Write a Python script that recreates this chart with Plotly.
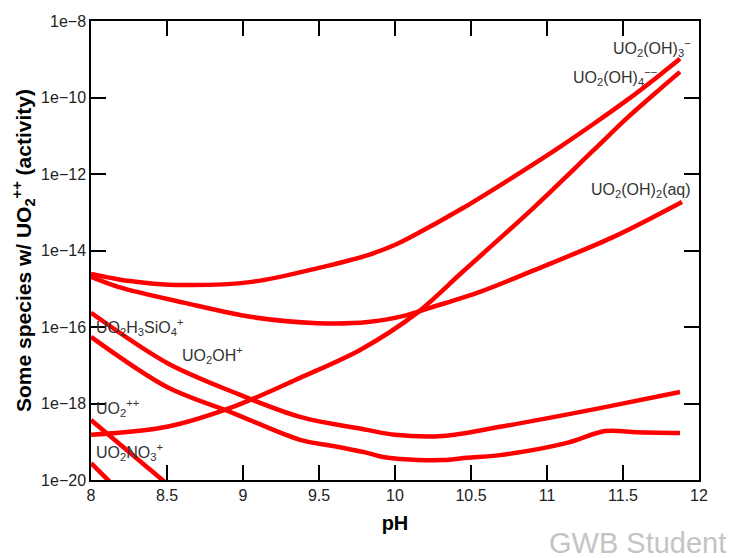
import plotly.graph_objects as go

# ---- data (pH, log10 activity) ----
ph_oh3 = [8.0, 8.257, 8.553, 9.059, 9.493, 9.822, 10.013, 10.132, 10.447, 10.829, 11.086, 11.303, 11.526, 11.743, 11.875]
lg_oh3 = [-14.61, -14.80, -14.90, -14.82, -14.46, -14.12, -13.83, -13.59, -12.89, -11.95, -11.29, -10.70, -10.07, -9.41, -8.99]

ph_oh2 = [8.0, 8.178, 8.618, 9.059, 9.493, 9.822, 10.079, 10.23, 10.559, 10.888, 11.434, 11.888]
lg_oh2 = [-14.69, -14.95, -15.37, -15.74, -15.90, -15.87, -15.69, -15.50, -15.08, -14.56, -13.65, -12.73]

ph_oh4 = [8.0, 8.5, 8.934, 9.375, 9.77, 10.145, 10.447, 10.888, 11.303, 11.526, 11.743, 11.875]
lg_oh4 = [-18.82, -18.61, -18.09, -17.33, -16.60, -15.63, -14.55, -12.97, -11.39, -10.54, -9.78, -9.33]

ph_si = [8.0, 8.5, 8.934, 9.375, 9.816, 10.0, 10.316, 10.691, 11.349, 11.875]
lg_si = [-15.63, -16.94, -17.70, -18.35, -18.69, -18.82, -18.85, -18.61, -18.12, -17.70]

ph_uooh = [8.0, 8.5, 8.934, 9.375, 9.592, 9.816, 9.921, 10.033, 10.316, 10.474, 10.691, 11.132, 11.382, 11.592, 11.875]
lg_uooh = [-16.26, -17.57, -18.25, -18.95, -19.11, -19.29, -19.40, -19.45, -19.48, -19.42, -19.35, -19.03, -18.72, -18.75, -18.77]

ph_uo2 = [8.0, 8.5]
lg_uo2 = [-18.43, -20.10]

ph_no3 = [8.0, 8.15]
lg_no3 = [-19.56, -20.15]

x_ticks = [8, 8.5, 9, 9.5, 10, 10.5, 11, 11.5, 12]
y_tickvals = [1e-20, 1e-18, 1e-16, 1e-14, 1e-12, 1e-10, 1e-8]
y_ticktext = ["1e\u221220", "1e\u221218", "1e\u221216", "1e\u221214", "1e\u221212", "1e\u221210", "1e\u22128"]

series = [
    (ph_oh3, lg_oh3), (ph_oh2, lg_oh2), (ph_oh4, lg_oh4),
    (ph_si, lg_si), (ph_uooh, lg_uooh), (ph_uo2, lg_uo2), (ph_no3, lg_no3),
]

fig = go.Figure()
for xs, ls in series:
    fig.add_trace(go.Scatter(
        x=xs, y=[10 ** v for v in ls], mode="lines",
        line=dict(color="#ff0000", width=4.5, shape="spline", smoothing=0.9),
        showlegend=False, hoverinfo="skip",
    ))

FONT = "Liberation Sans, Arial, sans-serif"
lab_font = dict(family=FONT, size=16, color="#333333")
labels = [
    (11.96, -8.71, "UO<sub>2</sub>(OH)<sub>3</sub><sup>\u2212</sup>", "right"),
    (11.74, -9.46, "UO<sub>2</sub>(OH)<sub>4</sub><sup>\u2212\u2212</sup>", "right"),
    (11.96, -12.42, "UO<sub>2</sub>(OH)<sub>2</sub>(aq)", "right"),
    (8.02, -16.0, "UO<sub>2</sub>H<sub>3</sub>SiO<sub>4</sub><sup>+</sup>", "left"),
    (8.585, -16.73, "UO<sub>2</sub>OH<sup>+</sup>", "left"),
    (8.02, -18.12, "UO<sub>2</sub><sup>++</sup>", "left"),
    (8.02, -19.27, "UO<sub>2</sub>NO<sub>3</sub><sup>+</sup>", "left"),
]
for x, y, t, anc in labels:
    fig.add_annotation(x=x, y=y, xref="x", yref="y", text=t, showarrow=False,
                       xanchor=anc, yanchor="middle", font=lab_font)

fig.add_annotation(x=1.047, y=-0.138, xref="paper", yref="paper", text="GWB Student",
                   showarrow=False, xanchor="right", yanchor="middle",
                   font=dict(family=FONT, size=29, color="#c4c4c4"))

axis_common = dict(showline=True, linecolor="#000000", linewidth=1.5, mirror="ticks",
                   ticks="inside", ticklen=15, tickcolor="#000000", tickwidth=1.5,
                   showgrid=False, zeroline=False, automargin=False,
                   tickfont=dict(family=FONT, size=16, color="#222222"))

fig.update_xaxes(range=[8, 12], tickvals=x_ticks, ticktext=[f"{v:g}" for v in x_ticks],
                 title=dict(text="<b>pH</b>", standoff=13,
                            font=dict(family=FONT, size=20, color="#000000")),
                 **axis_common)
fig.update_yaxes(type="log", range=[-20, -8], tickvals=y_tickvals, ticktext=y_ticktext,
                 title=dict(text="<b>Some species w/ UO<sub>2</sub><sup>++</sup> (activity)</b>", standoff=4,
                            font=dict(family=FONT, size=21, color="#000000")),
                 **axis_common)

fig.update_layout(width=734, height=558, margin=dict(l=91, r=35, t=21, b=78),
                  plot_bgcolor="white", paper_bgcolor="white")

fig.write_html("out.html", config={"displayModeBar": False},
               post_script="document.body.style.margin='0px';document.body.style.overflow='hidden';")
